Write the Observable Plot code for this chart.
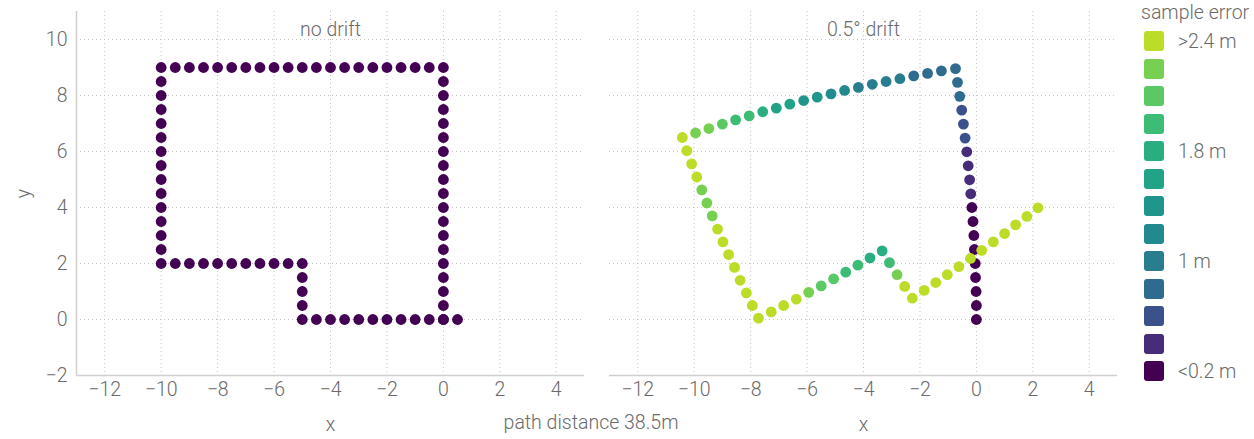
<!DOCTYPE html>
<html>
<head>
<meta charset="utf-8">
<script src="https://cdn.jsdelivr.net/npm/d3@7"></script>
<script src="https://cdn.jsdelivr.net/npm/@observablehq/plot@0.6"></script>
<style>
  body { margin: 0; background: #fff; }
  #wrap { position: relative; width: 1254px; height: 439px; font-family: Roboto, "Liberation Sans", sans-serif; font-weight: 300; color: #6a6a6a; }
  #chart { position: absolute; left: 0; top: 0; }
  #caption { position: absolute; left: 591px; top: 422px; transform: translate(-50%, -50%); font-size: 19.5px; white-space: nowrap; }
  #legend { position: absolute; left: 1141px; top: 0; width: 113px; height: 439px; }
  .lg-title { position: absolute; left: 0; top: 12px; transform: translateY(-50%); font-size: 19.5px; white-space: nowrap; }
  .lg-sw { position: absolute; left: 3px; width: 20px; height: 20px; border-radius: 3px; }
  .lg-lab { position: absolute; left: 37px; transform: translateY(-50%); font-size: 19.5px; white-space: nowrap; }
</style>
</head>
<body>
<div id="wrap">
  <div id="chart"></div>
  <div id="caption"></div>
  <div id="legend"></div>
</div>
<script>
// Panels
const facets = ["no drift", "0.5° drift"];
const caption = "path distance 38.5m";

// Ground-truth walk, one sample every 0.5 m
const trueX = [
  0, 0, 0, 0, 0, 0, 0, 0, 0, 0, 0, 0, 0, 0, 0, 0, 0, 0, 0,
  -0.5, -1, -1.5, -2, -2.5, -3, -3.5, -4, -4.5, -5, -5.5, -6, -6.5, -7, -7.5, -8, -8.5, -9, -9.5, -10,
  -10, -10, -10, -10, -10, -10, -10, -10, -10, -10, -10, -10, -10, -10,
  -9.5, -9, -8.5, -8, -7.5, -7, -6.5, -6, -5.5, -5,
  -5, -5, -5, -5,
  -4.5, -4, -3.5, -3, -2.5, -2, -1.5, -1, -0.5, 0, 0.5
];
const trueY = [
  0, 0.5, 1, 1.5, 2, 2.5, 3, 3.5, 4, 4.5, 5, 5.5, 6, 6.5, 7, 7.5, 8, 8.5, 9,
  9, 9, 9, 9, 9, 9, 9, 9, 9, 9, 9, 9, 9, 9, 9, 9, 9, 9, 9, 9,
  8.5, 8, 7.5, 7, 6.5, 6, 5.5, 5, 4.5, 4, 3.5, 3, 2.5, 2,
  2, 2, 2, 2, 2, 2, 2, 2, 2, 2,
  1.5, 1, 0.5, 0,
  0, 0, 0, 0, 0, 0, 0, 0, 0, 0, 0
];

// Same walk with a 0.5° heading drift per sample
const driftX = [
  0, 0, -0.01, -0.03, -0.04, -0.07, -0.09, -0.12, -0.16, -0.20, -0.24, -0.29, -0.34, -0.40, -0.46, -0.52, -0.59, -0.67, -0.74,
  -1.24, -1.73, -2.22, -2.71, -3.20, -3.69, -4.18, -4.67, -5.15, -5.64, -6.12, -6.61, -7.09, -7.57, -8.05, -8.53, -9.00, -9.48, -9.95, -10.42,
  -10.26, -10.09, -9.91, -9.73, -9.55, -9.36, -9.17, -8.98, -8.78, -8.57, -8.37, -8.15, -7.94, -7.72,
  -7.27, -6.83, -6.38, -5.94, -5.50, -5.06, -4.63, -4.20, -3.77, -3.34,
  -3.08, -2.81, -2.54, -2.27,
  -1.85, -1.44, -1.03, -0.62, -0.21, 0.19, 0.60, 1.00, 1.39, 1.79, 2.18
];
const driftY = [
  0, 0.50, 1.00, 1.50, 2.00, 2.50, 3.00, 3.50, 4.00, 4.49, 4.99, 5.49, 5.99, 6.48, 6.98, 7.48, 7.97, 8.47, 8.96,
  8.88, 8.79, 8.70, 8.60, 8.50, 8.40, 8.29, 8.18, 8.06, 7.94, 7.82, 7.69, 7.55, 7.42, 7.27, 7.13, 6.98, 6.82, 6.66, 6.50,
  6.03, 5.56, 5.09, 4.63, 4.16, 3.70, 3.23, 2.77, 2.32, 1.86, 1.40, 0.95, 0.50, 0.05,
  0.27, 0.50, 0.73, 0.97, 1.20, 1.45, 1.69, 1.94, 2.20, 2.45,
  2.03, 1.60, 1.18, 0.76,
  1.04, 1.32, 1.60, 1.89, 2.18, 2.47, 2.77, 3.07, 3.38, 3.68, 3.99
];

// Distance (m) between each drifted sample and its true position
const sampleError = [
  0, 0, 0.01, 0.03, 0.04, 0.07, 0.09, 0.12, 0.16, 0.20, 0.24, 0.29, 0.34, 0.40, 0.46, 0.52, 0.60, 0.67, 0.75,
  0.75, 0.76, 0.78, 0.82, 0.86, 0.92, 0.98, 1.06, 1.14, 1.24, 1.34, 1.45, 1.56, 1.68, 1.81, 1.94, 2.08, 2.23, 2.38, 2.53,
  2.48, 2.44, 2.41, 2.39, 2.38, 2.39, 2.41, 2.45, 2.50, 2.57, 2.66, 2.76, 2.87, 3.00,
  2.82, 2.64, 2.47, 2.30, 2.15, 2.01, 1.90, 1.80, 1.75, 1.72,
  1.99, 2.27, 2.55, 2.84,
  2.84, 2.88, 2.94, 3.04, 3.16, 3.30, 3.48, 3.66, 3.87, 4.09, 4.33
];
const noDriftError = 0;

// Colour bins for the sample error
const errorThresholds = [0.2, 0.4, 0.6, 0.8, 1.0, 1.2, 1.4, 1.6, 1.8, 2.0, 2.2, 2.4];
const binColors = ["#440154", "#472c7a", "#3b518b", "#2f6b8e", "#287d8e", "#22898e", "#1f958b",
                   "#20a386", "#29af7f", "#3dbc74", "#5ac864", "#77d052", "#bcdd27"];
const legendLabels = ["<0.2 m", "", "", "", "1 m", "", "", "", "1.8 m", "", "", "", ">2.4 m"];

// Axis ticks
const xTicks = [-12, -10, -8, -6, -4, -2, 0, 2, 4];
const yTicks = [-2, 0, 2, 4, 6, 8, 10];

const rows = [];
trueX.forEach((x, i) => rows.push({facet: facets[0], x, y: trueY[i], error: noDriftError}));
driftX.forEach((x, i) => rows.push({facet: facets[1], x, y: driftY[i], error: sampleError[i]}));

const ink = "#6a6a6a";
const fs = 19.5;
const gridStyle = {stroke: "#c4c4c4", strokeOpacity: 1, strokeDasharray: "1,3"};

const chart = Plot.plot({
  width: 1120,
  height: 439,
  marginLeft: 75,
  marginRight: 2,
  marginTop: 11,
  marginBottom: 64,
  style: {fontFamily: "Roboto, 'Liberation Sans', sans-serif", fontWeight: 300, fontSize: fs + "px", color: ink, background: "transparent"},
  fx: {domain: facets, paddingInner: 0.0468, paddingOuter: 0, axis: null, label: null},
  x: {domain: [-13, 5]},
  y: {domain: [-2, 11]},
  color: {type: "threshold", domain: errorThresholds, range: binColors},
  marks: [
    Plot.gridX(xTicks, gridStyle),
    Plot.gridY(yTicks, gridStyle),
    Plot.ruleY([-2], {stroke: "#cfcfcf", strokeWidth: 1.5}),
    Plot.ruleX([-13], {fx: () => facets[0], stroke: "#cfcfcf", strokeWidth: 1.5}),
    Plot.axisX(xTicks, {tickSize: 0, tickPadding: 7, label: null, fontSize: fs, fill: ink}),
    Plot.axisY(yTicks, {tickSize: 0, tickPadding: 9, label: "y", labelAnchor: "center", labelOffset: 60, labelArrow: false, fontSize: fs, fill: ink}),
    Plot.dot(rows, {x: "x", y: "y", fx: "facet", fill: "error", r: 5.4, stroke: null}),
    Plot.text(facets, {fx: d => d, text: d => d, frameAnchor: "top", dy: 11, fontSize: fs, fill: ink}),
    Plot.text(facets, {fx: d => d, text: () => "x", frameAnchor: "bottom", dy: 55, fontSize: fs, fill: ink})
  ]
});
document.getElementById("chart").appendChild(chart);
document.getElementById("caption").textContent = caption;

// Swatch legend, highest bin on top
const legend = document.getElementById("legend");
const title = document.createElement("div");
title.className = "lg-title";
title.textContent = "sample error";
legend.appendChild(title);
for (let row = 0; row < binColors.length; row++) {
  const bin = binColors.length - 1 - row;
  const cy = 41 + row * 27.5;
  const sw = document.createElement("div");
  sw.className = "lg-sw";
  sw.style.top = (cy - 10) + "px";
  sw.style.background = binColors[bin];
  legend.appendChild(sw);
  if (legendLabels[bin]) {
    const lab = document.createElement("div");
    lab.className = "lg-lab";
    lab.style.top = cy + "px";
    lab.textContent = legendLabels[bin];
    legend.appendChild(lab);
  }
}
</script>
</body>
</html>
